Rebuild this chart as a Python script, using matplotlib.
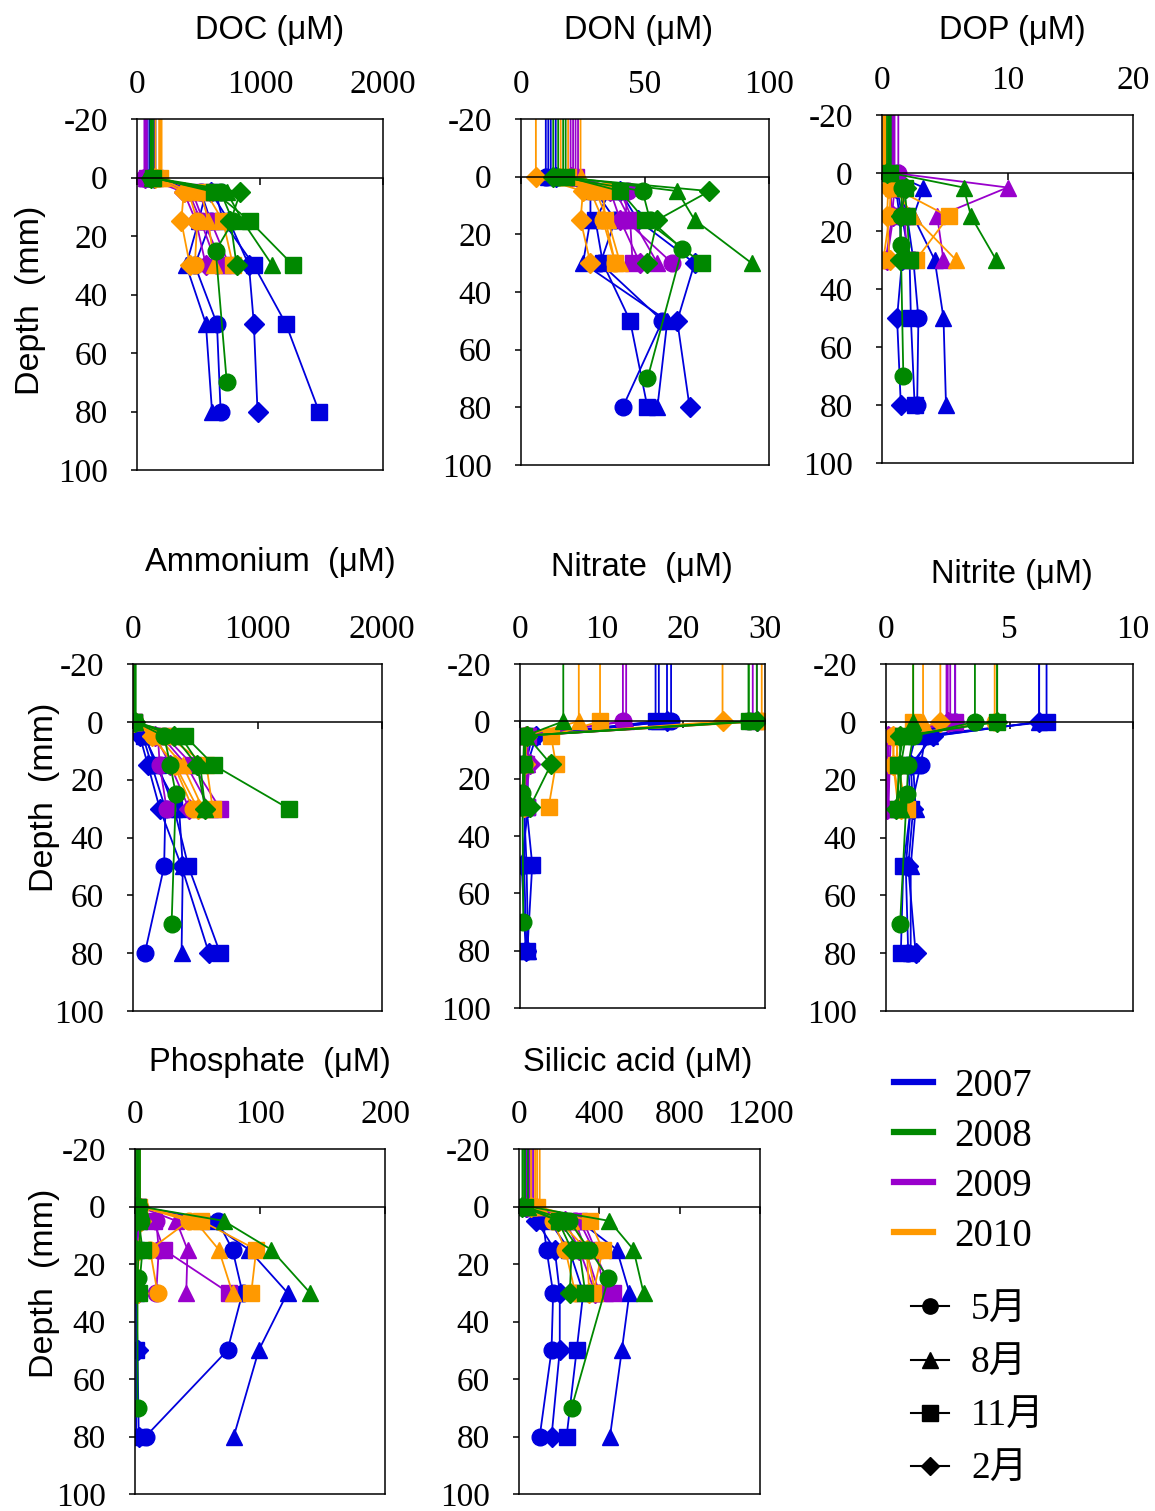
import matplotlib
matplotlib.use('Agg')
import matplotlib.pyplot as plt
from matplotlib.lines import Line2D

plt.rcParams['font.family'] = 'Liberation Serif'
plt.rcParams['axes.unicode_minus'] = False

# sampling depths (mm); -20 is the overlying water, plotted without marker
depth_2007 = [0, 5, 15, 30, 50, 80]
depth_2008_may = [0, 5, 15, 25, 70]
depth_short = [0, 5, 15, 30]
water_depth = -20

years = [2007, 2008, 2009, 2010]
year_colors = ['#0000DD', '#008800', '#9900CC', '#FF9900']
months = ['5月', '8月', '11月', '2月']
month_markers = ['o', '^', 's', 'D']

# each year: [May, Aug, Nov, Feb] profiles
doc_2007 = [[100, 520, 600, 470, 650, 680], [80, 560, 500, 400, 560, 610],
            [150, 640, 700, 950, 1210, 1480], [140, 600, 750, 910, 950, 980]]
doc_2008 = [[110, 680, 780, 640, 730], [120, 730, 860, 1100],
            [130, 630, 920, 1270], [115, 840, 760, 810]]
doc_2009 = [[60, 420, 520, 650], [70, 450, 540, 700], [80, 500, 600, 750], [65, 380, 480, 560]]
doc_2010 = [[180, 420, 490, 470], [200, 520, 580, 630], [190, 560, 700, 780], [150, 380, 360, 430]]

don_2007 = [[10, 30, 38, 32, 57, 41], [11, 28, 28, 25, 59, 55],
            [12, 36, 30, 33, 44, 51], [14, 40, 47, 70, 63, 68]]
don_2008 = [[15, 49, 52, 65, 51], [17, 63, 70, 93], [18, 40, 50, 73], [13, 76, 55, 51]]
don_2009 = [[21, 43, 42, 61], [23, 40, 45, 55], [22, 38, 44, 45], [20, 36, 40, 48]]
don_2010 = [[16, 28, 33, 38], [24, 30, 35, 40], [19, 33, 34, 38], [6, 25, 24, 28]]

dop_2007 = [[0.6, 1.5, 2.0, 2.5, 2.9, 2.8], [0.7, 3.3, 2.5, 4.2, 4.9, 5.1],
            [0.8, 1.2, 1.6, 2.2, 2.3, 2.6], [0.6, 1.1, 1.4, 1.6, 1.2, 1.5]]
dop_2008 = [[0.5, 1.6, 1.5, 1.5, 1.7], [0.7, 6.5, 7.1, 9.1], [0.6, 1.8, 2.0, 2.2], [0.4, 1.9, 1.5, 1.4]]
dop_2009 = [[1.3, 1.0, 0.8, 0.3], [1.0, 10.0, 4.4, 4.9], [0.9, 1.5, 1.8, 2.0], [0.8, 0.6, 0.9, 0.4]]
dop_2010 = [[0.2, 0.7, 0.6, 0.1], [0.3, 1.0, 2.5, 5.9], [0.1, 0.9, 5.3, 2.7], [0.2, 0.5, 0.4, 0.6]]

nh4_2007 = [[10, 80, 150, 260, 250, 95], [15, 100, 180, 370, 400, 390],
            [10, 90, 200, 330, 445, 700], [5, 55, 120, 215, 390, 610]]
nh4_2008 = [[20, 250, 300, 344, 310], [15, 380, 540, 580], [10, 420, 650, 1250], [20, 330, 515, 580]]
nh4_2009 = [[10, 200, 215, 270], [15, 230, 430, 620], [10, 260, 480, 700], [5, 180, 300, 450]]
nh4_2010 = [[15, 160, 330, 480], [10, 200, 400, 560], [5, 280, 590, 640], [10, 150, 340, 520]]

no3_2007 = [[18.5, 1.0, 0.8, 0.6, 0.5, 0.8], [17.0, 1.5, 0.7, 0.5, 0.8, 1.0],
            [16.6, 0.8, 0.6, 0.8, 1.5, 0.9], [18.0, 2.0, 0.9, 1.0, 0.2, 0.7]]
no3_2008 = [[28.0, 0.6, 0.5, 0.3, 0.4], [5.3, 0.7, 0.6, 0.5], [28.0, 0.5, 0.4, 0.3], [29.0, 0.8, 3.8, 1.2]]
no3_2009 = [[12.6, 0.8, 1.0, 0.6], [13.0, 0.6, 0.8, 0.5], [28.5, 1.0, 0.7, 0.8], [29.0, 0.7, 1.2, 0.6]]
no3_2010 = [[29.6, 0.5, 0.5, 0.1], [7.2, 0.6, 0.6, 0.4], [9.8, 3.8, 4.4, 3.5], [24.8, 0.9, 0.6, 0.5]]

no2_2007 = [[2.8, 1.6, 1.4, 1.0, 0.8, 0.9], [6.2, 1.8, 1.1, 1.2, 1.0, 1.0],
            [6.5, 1.2, 0.9, 1.0, 0.7, 0.6], [6.2, 1.9, 1.0, 1.1, 0.9, 1.2]]
no2_2008 = [[3.6, 1.1, 0.9, 0.84, 0.57], [1.1, 0.8, 0.6, 0.6], [4.5, 0.7, 0.5, 0.5], [4.5, 0.57, 0.57, 0.4]]
no2_2009 = [[2.6, 0.05, 0.05, 0.0], [2.45, 0.1, 0.1, 0.05], [2.8, 0.2, 0.15, 0.1], [2.5, 0.1, 0.1, 0.05]]
no2_2010 = [[4.4, 0.3, 0.3, 0.5], [1.5, 0.4, 0.5, 0.8], [1.1, 0.5, 0.4, 0.85], [2.2, 0.3, 0.3, 0.6]]

po4_2007 = [[3, 66, 78, 86, 74, 8.5], [3, 58, 91, 122, 99, 79],
            [2, 3, 0.5, 1, 1, 1], [2, 2, 1, 1, 2, 3]]
po4_2008 = [[3, 5, 3, 2, 2], [4, 71, 109, 140], [2, 3, 6, 3], [1, 1, 1, 1]]
po4_2009 = [[2, 17, 19, 17], [3, 33, 42, 41], [2, 15, 23, 75], [2, 3, 2, 2]]
po4_2010 = [[4, 43, 12, 18], [4, 48, 67, 78], [3, 53, 97, 93], [2, 5, 3, 2]]

si_2007 = [[40, 120, 137, 170, 162, 103], [50, 300, 487, 550, 512, 453],
           [30, 150, 250, 320, 287, 237], [35, 87, 178, 203, 203, 162]]
si_2008 = [[25, 250, 350, 445, 262], [45, 450, 570, 620], [30, 200, 300, 330], [17, 195, 262, 253]]
si_2009 = [[50, 280, 330, 400], [70, 320, 380, 430], [60, 300, 370, 470], [40, 230, 300, 380]]
si_2010 = [[80, 170, 230, 280], [103, 260, 337, 380], [90, 353, 417, 370], [60, 200, 337, 350]]

panels = [
    ('DOC (μM)', [0, 1000, 2000], [doc_2007, doc_2008, doc_2009, doc_2010]),
    ('DON (μM)', [0, 50, 100], [don_2007, don_2008, don_2009, don_2010]),
    ('DOP (μM)', [0, 10, 20], [dop_2007, dop_2008, dop_2009, dop_2010]),
    ('Ammonium  (μM)', [0, 1000, 2000], [nh4_2007, nh4_2008, nh4_2009, nh4_2010]),
    ('Nitrate  (μM)', [0, 10, 20, 30], [no3_2007, no3_2008, no3_2009, no3_2010]),
    ('Nitrite (μM)', [0, 5, 10], [no2_2007, no2_2008, no2_2009, no2_2010]),
    ('Phosphate  (μM)', [0, 100, 200], [po4_2007, po4_2008, po4_2009, po4_2010]),
    ('Silicic acid (μM)', [0, 400, 800, 1200], [si_2007, si_2008, si_2009, si_2010]),
]

# axes boxes in pixels: left, right, top, bottom
W, H = 1155, 1511
boxes = [(137, 383, 119, 470), (521, 769, 119, 465), (882, 1133, 115, 463),
         (133, 382, 664, 1011), (520, 765, 664, 1008), (886, 1133, 664, 1011),
         (135, 385, 1149, 1494), (519, 760, 1149, 1494)]
title_pos = [(270, 30), (638, 30), (1012, 30), (270, 563), (642, 567), (1012, 575),
             (270, 1063), (638, 1063)]

fig = plt.figure(figsize=(W / 100, H / 100), dpi=100)

def depths_for(yi, mi):
    if yi == 0:
        return depth_2007
    if yi == 1 and mi == 0:
        return depth_2008_may
    return depth_short

draw_order = [0, 2, 3, 1]  # green ends up on top

for k, (title, ticks, data) in enumerate(panels):
    l, r, t, b = boxes[k]
    ax = fig.add_axes([l / W, 1 - b / H, (r - l) / W, (b - t) / H])
    for yi in draw_order:
        for mi in range(4):
            vals = data[yi][mi]
            d = depths_for(yi, mi)
            ax.plot([vals[0]] + vals, [water_depth] + d, color=year_colors[yi], lw=1.3,
                    marker=month_markers[mi], ms=12 if month_markers[mi] != 'D' else 10.5,
                    markevery=list(range(1, len(d) + 1)), clip_on=True)
    ax.set_xlim(ticks[0], ticks[-1])
    ax.set_ylim(100, -20)
    ax.set_xticks(ticks)
    ax.set_yticks(range(-20, 101, 20))
    ax.spines['bottom'].set_position(('data', 0))
    for s in ax.spines.values():
        s.set_linewidth(1.1)
    ax.axhline(100, color='black', lw=1.1, clip_on=False)
    ax.tick_params(axis='x', top=False, labeltop=True, bottom=True, labelbottom=False,
                   direction='out', length=5, width=1.1, pad=9, labelsize=24)
    ax.tick_params(axis='y', direction='out', length=4, width=1.1, pad=17, labelsize=24)
    tx, ty = title_pos[k]
    fig.text(tx / W, 1 - ty / H, title, ha='center', va='center', fontsize=23.5,
             family='Liberation Sans')

for (x, y) in [(30, 300), (45, 797), (45, 1283)]:
    fig.text(x / W, 1 - y / H, 'Depth  (mm)', rotation=90, ha='center', va='center',
             fontsize=24.5, family='Liberation Sans')

year_handles = [Line2D([], [], color=c, lw=4.5) for c in year_colors]
leg1 = fig.legend(year_handles, [str(y) for y in years], loc='upper left',
                  bbox_to_anchor=(894 / W, 1 - 1068 / H), frameon=False,
                  handlelength=1.0, handletextpad=0.55, labelspacing=0.33,
                  borderpad=0, borderaxespad=0,
                  prop={'family': 'Liberation Serif', 'size': 28})
month_handles = [Line2D([], [], color='black', lw=1.5, marker=m, ms=11 if m != 'D' else 9)
                 for m in month_markers]
leg2 = fig.legend(month_handles, months, loc='upper left',
                  bbox_to_anchor=(911 / W, 1 - 1293 / H), frameon=False,
                  handlelength=1.0, handletextpad=0.6, labelspacing=0.5,
                  borderpad=0, borderaxespad=0,
                  prop={'family': ['Liberation Serif', 'Noto Sans CJK JP'], 'size': 27})

fig.savefig('out.png', dpi=100)
